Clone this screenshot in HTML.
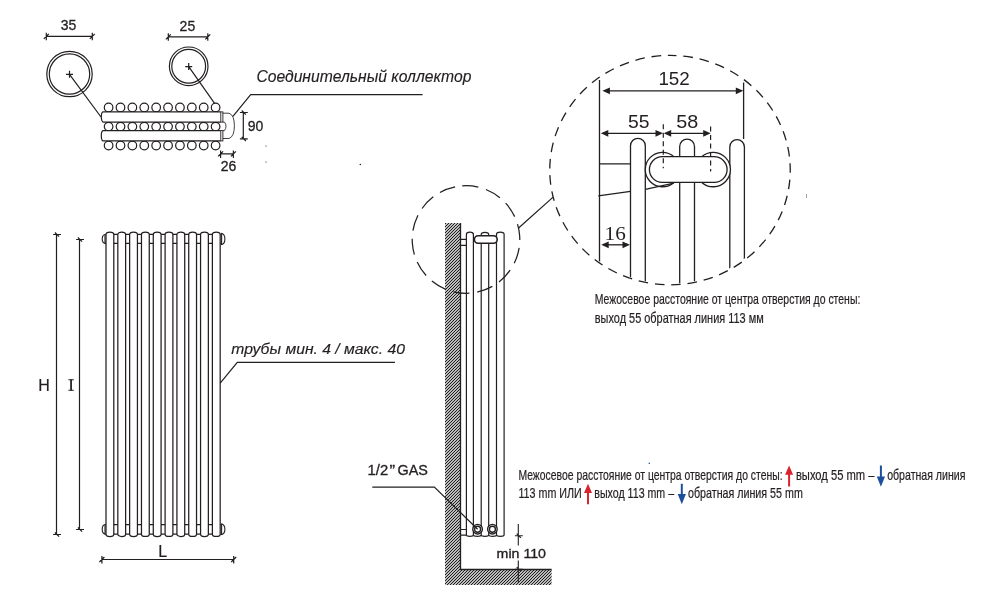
<!DOCTYPE html>
<html><head><meta charset="utf-8">
<style>
html,body{margin:0;padding:0;background:#fff;width:986px;height:599px;overflow:hidden;}
svg{display:block;will-change:transform;}
text{font-family:"Liberation Sans",sans-serif;fill:#231f20;}
</style></head>
<body>
<svg width="986" height="599" viewBox="0 0 986 599">
<defs>
<pattern id="hatch" patternUnits="userSpaceOnUse" width="3" height="3">
<path d="M-1,1 L1,-1 M0,3 L3,0 M2,4 L4,2" stroke="#141414" stroke-width="1.1"/>
</pattern>
<clipPath id="bigclip"><ellipse cx="670" cy="170.1" rx="119" ry="113.5"/></clipPath>
</defs>

<g fill="none" stroke="#231f20" stroke-width="1.2">
<path d="M46.3,36.3 H92.3 M46.3,32.8 V40.3 M43.8,38.8 L48.8,33.8 M92.3,32.8 V40.3 M89.8,38.8 L94.8,33.8"/>
<path d="M168.3,36.8 H207.8 M168.3,33.3 V40.8 M165.8,39.3 L170.8,34.3 M207.8,33.3 V40.8 M205.3,39.3 L210.3,34.3"/>
<circle cx="69.5" cy="74" r="22.7"/><circle cx="69.5" cy="74" r="20.2"/>
<path d="M66,74.3 H73 M69.5,70.8 V77.8 M69.5,74.3 L101,117"/>
<circle cx="188.7" cy="66.3" r="19.3"/><circle cx="188.7" cy="66.3" r="16.9"/>
<path d="M185.2,66.6 H192.2 M188.7,63.1 V70.1 M188.7,66.6 L215.3,104.3"/>
</g>
<g fill="#fff" stroke="#231f20" stroke-width="1.2">
<circle cx="108.60" cy="107.5" r="4.3"/>
<circle cx="120.49" cy="107.5" r="4.3"/>
<circle cx="132.38" cy="107.5" r="4.3"/>
<circle cx="144.27" cy="107.5" r="4.3"/>
<circle cx="156.16" cy="107.5" r="4.3"/>
<circle cx="168.05" cy="107.5" r="4.3"/>
<circle cx="179.94" cy="107.5" r="4.3"/>
<circle cx="191.83" cy="107.5" r="4.3"/>
<circle cx="203.72" cy="107.5" r="4.3"/>
<circle cx="215.61" cy="107.5" r="4.3"/>
<circle cx="108.60" cy="126.6" r="4.3"/>
<circle cx="120.49" cy="126.6" r="4.3"/>
<circle cx="132.38" cy="126.6" r="4.3"/>
<circle cx="144.27" cy="126.6" r="4.3"/>
<circle cx="156.16" cy="126.6" r="4.3"/>
<circle cx="168.05" cy="126.6" r="4.3"/>
<circle cx="179.94" cy="126.6" r="4.3"/>
<circle cx="191.83" cy="126.6" r="4.3"/>
<circle cx="203.72" cy="126.6" r="4.3"/>
<circle cx="215.61" cy="126.6" r="4.3"/>
<circle cx="108.60" cy="145.5" r="4.3"/>
<circle cx="120.49" cy="145.5" r="4.3"/>
<circle cx="132.38" cy="145.5" r="4.3"/>
<circle cx="144.27" cy="145.5" r="4.3"/>
<circle cx="156.16" cy="145.5" r="4.3"/>
<circle cx="168.05" cy="145.5" r="4.3"/>
<circle cx="179.94" cy="145.5" r="4.3"/>
<circle cx="191.83" cy="145.5" r="4.3"/>
<circle cx="203.72" cy="145.5" r="4.3"/>
<circle cx="215.61" cy="145.5" r="4.3"/>
<path d="M220.8,111.9 H103.3 A2,5.10 0 0 0 103.3,122.1 H220.8"/>
<rect x="220.8" y="111.9" width="2.1" height="10.20" stroke-width="0.9"/>
<path d="M220.8,130.6 H103.3 A2,5.15 0 0 0 103.3,140.9 H220.8"/>
<rect x="220.8" y="130.6" width="2.1" height="10.30" stroke-width="0.9"/>
</g>
<g fill="none" stroke="#231f20" stroke-width="1" opacity="0.85">
<path d="M222.9,113.2 H229 Q234.4,115 234.4,125.8 Q234.4,136.6 229,138.5 H222.9"/>
<path d="M222.9,122.1 H224.5 Q226,124 226,126.3 Q226,128.5 224.5,130.6 H222.9"/>
</g>
<g fill="none" stroke="#231f20" stroke-width="1.2">
<path d="M232.9,116.3 L250.7,94.6 H422.6"/>
<path d="M243.3,112.5 V138.8 M239.9,112.5 H247.8 M241.70000000000002,110.5 L245.9,114.7 M239.9,138.8 H247.8 M241.70000000000002,136.8 L245.9,141.0"/>
<path d="M220.6,153.9 H233.4 M220.6,150.4 V157.9 M218.1,156.4 L223.1,151.4 M233.4,150.4 V157.9 M230.9,156.4 L235.9,151.4"/>
</g>
<g font-size="14" stroke="#231f20" stroke-width="0.3">
<text x="68.5" y="30" text-anchor="middle">35</text>
<text x="187.4" y="30.7" text-anchor="middle">25</text>
<text x="247.7" y="130.6">90</text>
<text x="228.5" y="170.5" text-anchor="middle">26</text>
</g>
<text x="256.4" y="82.2" font-size="16" stroke="#231f20" stroke-width="0.15" font-style="italic" textLength="215" lengthAdjust="spacingAndGlyphs">Соединительный коллектор</text>
<g fill="none" stroke="#231f20" stroke-width="1.25">
<path d="M106,234.4 H220.6 M106,243.4 H220.6 M106,524.5 H220.6 M106,534.2 H220.6"/>
</g>
<g fill="#fff" stroke="#231f20" stroke-width="1.25">
<path d="M106.00,534.2 V234.4 A3.9,2.3 0 0 1 113.80,234.4 V534.2 A3.9,2.3 0 0 1 106.00,534.2 Z"/>
<path d="M117.82,534.2 V234.4 A3.9,2.3 0 0 1 125.62,234.4 V534.2 A3.9,2.3 0 0 1 117.82,534.2 Z"/>
<path d="M129.64,534.2 V234.4 A3.9,2.3 0 0 1 137.44,234.4 V534.2 A3.9,2.3 0 0 1 129.64,534.2 Z"/>
<path d="M141.46,534.2 V234.4 A3.9,2.3 0 0 1 149.26,234.4 V534.2 A3.9,2.3 0 0 1 141.46,534.2 Z"/>
<path d="M153.28,534.2 V234.4 A3.9,2.3 0 0 1 161.08,234.4 V534.2 A3.9,2.3 0 0 1 153.28,534.2 Z"/>
<path d="M165.10,534.2 V234.4 A3.9,2.3 0 0 1 172.90,234.4 V534.2 A3.9,2.3 0 0 1 165.10,534.2 Z"/>
<path d="M176.92,534.2 V234.4 A3.9,2.3 0 0 1 184.72,234.4 V534.2 A3.9,2.3 0 0 1 176.92,534.2 Z"/>
<path d="M188.74,534.2 V234.4 A3.9,2.3 0 0 1 196.54,234.4 V534.2 A3.9,2.3 0 0 1 188.74,534.2 Z"/>
<path d="M200.56,534.2 V234.4 A3.9,2.3 0 0 1 208.36,234.4 V534.2 A3.9,2.3 0 0 1 200.56,534.2 Z"/>
<path d="M212.38,534.2 V234.4 A3.9,2.3 0 0 1 220.18,234.4 V534.2 A3.9,2.3 0 0 1 212.38,534.2 Z"/>
</g>
<g fill="none" stroke="#231f20" stroke-width="1.1">
<path d="M106,234.3 Q102.2,234.5 102.2,239 Q102.2,243.5 106,243.6 M105,234.8 V243.2"/>
<path d="M106,524.3 Q102.2,524.5 102.2,529.3 Q102.2,534.2 106,534.4 M105,524.8 V534"/>
<path d="M220.8,233.2 Q224.9,233.6 224.9,239 Q224.9,244.4 220.8,244.7 M221.6,233.6 V244.4"/>
<path d="M220.8,523.8 Q224.9,524.2 224.9,529.3 Q224.9,534.4 220.8,534.7 M221.6,524.2 V534.4"/>
</g>
<g fill="none" stroke="#231f20" stroke-width="1.2">
<path d="M56.5,234.5 V534.5 M53.1,234.5 H61.0 M54.9,232.5 L59.1,236.7 M53.1,534.5 H61.0 M54.9,532.5 L59.1,536.7"/>
<path d="M79.5,239.5 V529.5 M76.1,239.5 H84.0 M77.9,237.5 L82.1,241.7 M76.1,529.5 H84.0 M77.9,527.5 L82.1,531.7"/>
<path d="M101.9,559.5 H233.7 M101.9,556.0 V563.5 M99.4,562.0 L104.4,557.0 M233.7,556.0 V563.5 M231.2,562.0 L236.2,557.0"/>
<path d="M220.2,383.2 L237.3,362.4 H394.9"/>
</g>
<g font-size="16" stroke="#231f20" stroke-width="0.2">
<text x="44" y="390.8" text-anchor="middle">H</text>
<text x="162.7" y="556.8" text-anchor="middle">L</text>
</g>
<path d="M68.4,379.7 H73.8 M68.4,390.3 H73.8 M71.1,379.5 V390.5" fill="none" stroke="#231f20" stroke-width="1.1"/><path d="M71.1,379.5 V390.5" stroke="#231f20" stroke-width="1.5"/>
<text x="231.3" y="353.9" font-size="14" stroke="#231f20" stroke-width="0.15" font-style="italic" textLength="173.6" lengthAdjust="spacingAndGlyphs">трубы мин. 4 / макс. 40</text>
<path d="M445,223 H460.6 V569.5 H551.6 V585 H445 Z" fill="url(#hatch)" stroke="none"/>
<path d="M460.5,223 V569.5 H551.6" fill="none" stroke="#231f20" stroke-width="1.3"/>
<path d="M460.6,239.4 H466.4 M460.6,245.4 H466.4 M460.6,529.5 H466.4 M460.6,535.1 H466.4" fill="none" stroke="#231f20" stroke-width="1.2"/>
<g fill="none" stroke="#231f20" stroke-width="1.2">
<path d="M466.4,535.1 V234.4 A3.5,2.2 0 0 1 473.4,234.4 V535.1"/>
<path d="M496.5,535.1 V234.4 A3.8,2.2 0 0 1 504.1,234.4 V535.1"/>
<path d="M481.2,536 V234.5 A3.75,2.2 0 0 1 488.7,234.5 V536"/>
<path d="M466.4,535.1 A3.50,1.3 0 0 0 473.4,535.1"/>
<path d="M473.4,535.1 A3.90,1.3 0 0 0 481.2,535.1"/>
<path d="M481.2,535.1 A3.75,1.3 0 0 0 488.7,535.1"/>
<path d="M488.7,535.1 A3.90,1.3 0 0 0 496.5,535.1"/>
<path d="M496.5,535.1 A3.80,1.3 0 0 0 504.1,535.1"/>
</g>
<rect x="474.4" y="235.8" width="22.8" height="7.5" rx="3.75" fill="#fff" stroke="#231f20" stroke-width="1.6"/>
<g fill="#fff" stroke="#231f20" stroke-width="1.35">
<circle cx="477.6" cy="529.2" r="4.8"/><circle cx="477.6" cy="529.2" r="3.0"/>
<circle cx="492.4" cy="529.2" r="4.8"/><circle cx="492.4" cy="529.2" r="3.0"/>
</g>
<path d="M372.3,487.1 H434.4 L477.6,529.2" fill="none" stroke="#231f20" stroke-width="1.2"/>
<g font-size="14.4" stroke="#231f20" stroke-width="0.3">
<text x="367.6" y="474.6" textLength="20.6" lengthAdjust="spacingAndGlyphs">1/2</text>
<text x="389.4" y="474.6" textLength="5.6" lengthAdjust="spacingAndGlyphs">”</text>
<text x="397.5" y="474.6" textLength="30.4" lengthAdjust="spacingAndGlyphs">GAS</text>
</g>
<path d="M518.3,524.1 V545.5 M518.3,560.5 V582.5 M514.9,535.7 H522.8 M516.6999999999999,533.7 L520.9,537.9000000000001 M514.9,569.2 H522.8 M516.6999999999999,567.2 L520.9,571.4000000000001" fill="none" stroke="#231f20" stroke-width="1.1"/>
<text x="496.6" y="557.7" font-size="13" stroke="#231f20" stroke-width="0.35" textLength="49.4" lengthAdjust="spacingAndGlyphs">min 110</text>
<path d="M462.25,185.83 A53.8,53.8 0 0 1 469.75,293.17 A53.8,53.8 0 0 1 462.25,185.83" fill="none" stroke="#231f20" stroke-width="1.25" stroke-dasharray="16.18 7.97"/>
<path d="M518.3,228.2 L553.1,197.1" fill="none" stroke="#231f20" stroke-width="1.2"/>
<path d="M670,55.4 A120.3,114.7 0 0 1 670,284.8 A120.3,114.7 0 0 1 670,55.4" fill="none" stroke="#231f20" stroke-width="1.3" stroke-dasharray="9.60 6.81" stroke-dashoffset="3"/>
<path d="M806.6,194 V198" stroke="#231f20" stroke-width="0.8" opacity="0.6"/>
<g clip-path="url(#bigclip)" fill="none" stroke="#231f20" stroke-width="1.3">
<path d="M599.5,80 V300"/>
<path d="M743.6,82.5 V139"/>
<path d="M630.5,300 V145.70 A7.40,7.40 0 0 1 645.3,145.70 V300"/>
<path d="M679.7,300 V146.50 A7.40,7.40 0 0 1 694.5,146.50 V300"/>
<path d="M729.8,300 V146.90 A7.30,7.30 0 0 1 744.4,146.90 V300"/>
<path d="M599.5,163.8 H630.5"/>
</g>
<g fill="#fff" stroke="#231f20" stroke-width="1.3">
<path d="M673.9,156.7 A17.2,17.2 0 1 0 673.9,182.4 Z"/>
<path d="M701.8,156.7 A17.2,17.2 0 1 1 701.8,182.4 Z"/>
<rect x="649.4" y="156.7" width="77.7" height="25.7" rx="12.85"/>
</g>
<path d="M598.3,195.9 L630.5,191.4 M645.3,189.4 L673.9,183.2" fill="none" stroke="#231f20" stroke-width="1.3" clip-path="url(#bigclip)"/>
<g fill="none" stroke="#231f20" stroke-width="1.2" stroke-dasharray="5 3.5">
<path d="M663.3,124.2 V168.3 M710.6,126.5 V171.5"/>
</g>
<path d="M608.4,90.8 H737.3" fill="none" stroke="#231f20" stroke-width="1.3"/><path d="M602.4,90.8 L609.9,87.39999999999999 L609.9,94.2 Z M743.3,90.8 L735.8,87.39999999999999 L735.8,94.2 Z" fill="#231f20"/>
<path d="M606.8,133.3 H657.0" fill="none" stroke="#231f20" stroke-width="1.3"/><path d="M600.8,133.3 L608.3,129.9 L608.3,136.70000000000002 Z M663.0,133.3 L655.5,129.9 L655.5,136.70000000000002 Z" fill="#231f20"/>
<path d="M669.7,133.3 H704.7" fill="none" stroke="#231f20" stroke-width="1.3"/><path d="M663.7,133.3 L671.2,129.9 L671.2,136.70000000000002 Z M710.7,133.3 L703.2,129.9 L703.2,136.70000000000002 Z" fill="#231f20"/>
<path d="M607.2,244.8 H624.0" fill="none" stroke="#231f20" stroke-width="1.3"/><path d="M601.2,244.8 L608.7,241.4 L608.7,248.20000000000002 Z M630.0,244.8 L622.5,241.4 L622.5,248.20000000000002 Z" fill="#231f20"/>
<g font-size="17.5">
<text x="674.1" y="85" text-anchor="middle" textLength="31.4" lengthAdjust="spacingAndGlyphs">152</text>
<text x="638.7" y="127.5" text-anchor="middle" textLength="21.5" lengthAdjust="spacingAndGlyphs">55</text>
<text x="687.2" y="127.5" text-anchor="middle" textLength="22" lengthAdjust="spacingAndGlyphs">58</text>
</g>
<text x="615.2" y="240.3" font-size="18.3" text-anchor="middle" textLength="21.2" lengthAdjust="spacingAndGlyphs" style="font-family:'Liberation Serif',serif">16</text>
<g stroke="#231f20" stroke-width="0.22">
<text x="594.8" y="304.4" font-size="15" textLength="265.5" lengthAdjust="spacingAndGlyphs">Межосевое расстояние от центра отверстия до стены:</text>
<text x="594.8" y="322.7" font-size="15" textLength="168.9" lengthAdjust="spacingAndGlyphs">выход 55 обратная линия 113 мм</text>
<text x="518.4" y="480.4" font-size="15" textLength="264.2" lengthAdjust="spacingAndGlyphs">Межосевое расстояние от центра отверстия до стены:</text>
<text x="795.9" y="480.4" font-size="15" textLength="78.6" lengthAdjust="spacingAndGlyphs">выход 55 mm –</text>
<text x="887.2" y="480.4" font-size="15" textLength="78.2" lengthAdjust="spacingAndGlyphs">обратная линия</text>
<text x="518.4" y="498.4" font-size="15" textLength="63.4" lengthAdjust="spacingAndGlyphs">113 mm ИЛИ</text>
<text x="594.3" y="498.4" font-size="15" textLength="79.8" lengthAdjust="spacingAndGlyphs">выход 113 mm –</text>
<text x="688.0" y="498.4" font-size="15" textLength="114.8" lengthAdjust="spacingAndGlyphs">обратная линия 55 mm</text>
</g>
<path d="M789.1,465.5 L793.1,474.8 L790.1,474.8 V486.6 H788.1 V474.8 L785.1,474.8 Z" fill="#d9232e"/>
<path d="M880.9,486.8 L885.0,476.6 L881.9,476.6 V465.5 H879.9 V476.6 L876.8,476.6 Z" fill="#1c4f9c"/>
<path d="M588.0,483.7 L592.0,493.0 L589.0,493.0 V504.3 H587.0 V493.0 L584.0,493.0 Z" fill="#d9232e"/>
<path d="M681.8,504.3 L685.9,494.1 L682.8,494.1 V483.7 H680.8 V494.1 L677.6999999999999,494.1 Z" fill="#1c4f9c"/>
<g fill="#231f20"><circle cx="266" cy="146" r="0.6"/><circle cx="266" cy="162" r="0.6"/><circle cx="360.3" cy="164.5" r="0.8"/></g>
<circle cx="649.3" cy="463.2" r="0.8" fill="#1c4f9c"/>
</svg>
</body></html>
